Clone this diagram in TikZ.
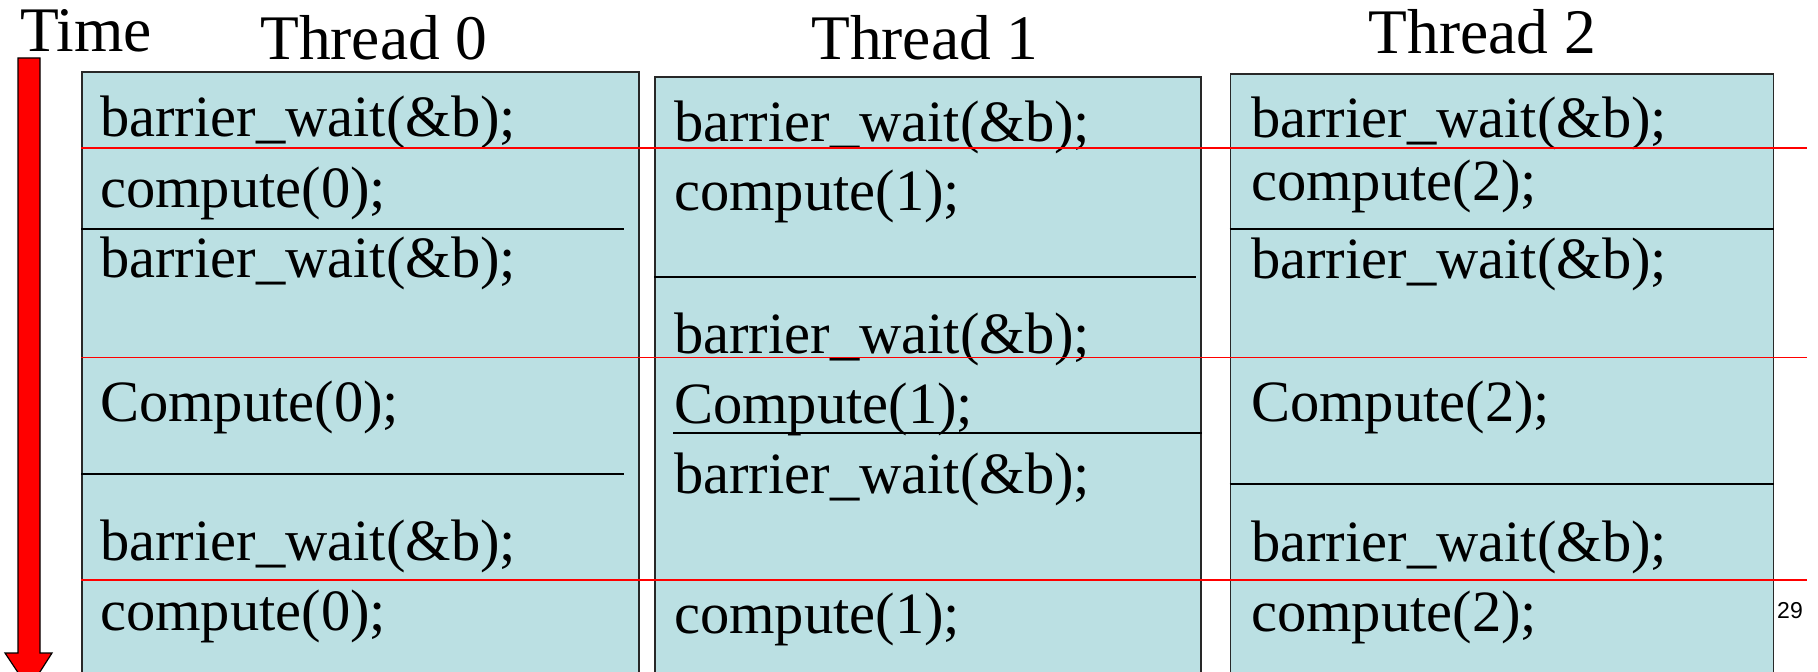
\documentclass[tikz,border=0pt]{standalone}
\usepackage{fontspec}
\setmainfont{Liberation Serif}
\newfontfamily\numfont{Liberation Sans}
\definecolor{boxfill}{RGB}{187,224,227}
\definecolor{boxedge}{RGB}{40,40,40}
\tikzset{
  x=1bp, y=-1bp,
  threadbox/.style={draw=boxedge, line width=1.6bp, fill=boxfill, anchor=north west, inner sep=0pt},
  code/.style={anchor=base west, inner sep=0pt, font=\fontsize{58.5bp}{61bp}\selectfont},
  heading/.style={anchor=base west, inner sep=0pt, font=\fontsize{63.5bp}{67bp}\selectfont},
  divider/.style={draw=black, line width=2bp},
  syncline/.style={draw=red, line width=1.8bp},
  timearrow/.style={draw=black, line width=1.2bp, fill=red},
}
\begin{document}
\begin{tikzpicture}
\useasboundingbox (0,0) rectangle (1818,672);
\clip (0,0) rectangle (1818,672);

% time axis
\filldraw[timearrow] (18,58) -- (40,58) -- (40,653) -- (52,653) -- (29,689)
  -- (5,653) -- (18,653) -- cycle;
\node[heading] (time) at (20,51.7) {Time};

% thread columns
\node[threadbox, minimum width=557bp, minimum height=640bp] (box0) at (81,71) {};
\node[threadbox, minimum width=546bp, minimum height=640bp] (box1) at (654,76) {};
\node[threadbox, minimum width=543bp, minimum height=640bp] (box2) at (1229.6,73.3) {};

\node[heading] (title0) at (260,60) {Thread 0};
\node[heading] (title1) at (811,59.3) {Thread 1};
\node[heading] (title2) at (1368.5,53.3) {Thread 2};

% section dividers
\draw[divider] (box0.west |- 0,228.7) -- (624,228.7);
\draw[divider] (box0.west |- 0,474.3) -- (624,474.3);
\draw[divider] (box1.west |- 0,276.5) -- (1196,276.5);
\draw[divider] (673,432.7) -- (box1.east |- 0,432.7);
\draw[divider] (box2.west |- 0,228.7) -- (box2.east |- 0,228.7);
\draw[divider] (box2.west |- 0,484) -- (box2.east |- 0,484);

% thread 0
\node[code] (a1) at (100,137) {barrier\_wait(\&b);};
\node[code] (a2) at (100,207) {compute(0);};
\node[code] (a3) at (100,277) {barrier\_wait(\&b);};
\node[code] (a4) at (100,421.5) {Compute(0);};
\node[code] (a5) at (100,560) {barrier\_wait(\&b);};
\node[code] (a6) at (100,630) {compute(0);};

% thread 1
\node[code] (b1) at (674,141.7) {barrier\_wait(\&b);};
\node[code] (b2) at (674,210) {compute(1);};
\node[code] (b3) at (674,353.3) {barrier\_wait(\&b);};
\node[code] (b4) at (674,423.3) {Compute(1);};
\node[code] (b5) at (674,493.3) {barrier\_wait(\&b);};
\node[code] (b6) at (674,633.3) {compute(1);};

% thread 2
\node[code] (c1) at (1251,138) {barrier\_wait(\&b);};
\node[code] (c2) at (1251,200) {compute(2);};
\node[code] (c3) at (1251,278) {barrier\_wait(\&b);};
\node[code] (c4) at (1251,421.7) {Compute(2);};
\node[code] (c5) at (1251,561.7) {barrier\_wait(\&b);};
\node[code] (c6) at (1251,631.7) {compute(2);};

% barrier crossings
\coordinate (r1e) at (1807,148.3);
\coordinate (r2e) at (1807,357.5);
\coordinate (r3e) at (1807,580.3);
\draw[syncline] (box0.west |- r1e) -- (r1e);
\draw[syncline] (box0.west |- r2e) -- (r2e);
\draw[syncline] (box0.west |- r3e) -- (r3e);

% page number
\node[anchor=base west, inner sep=0pt, font=\numfont\fontsize{23bp}{25bp}\selectfont] (page) at (1777,618) {29};
\end{tikzpicture}
\end{document}
